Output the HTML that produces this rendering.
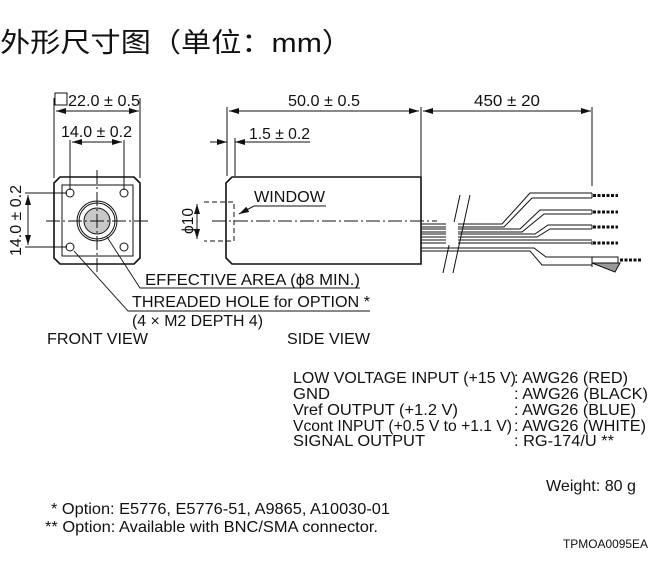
<!DOCTYPE html>
<html><head><meta charset="utf-8"><style>
body{margin:0;background:#fff;width:663px;height:582px;overflow:hidden}
svg{display:block}
text{font-family:"Liberation Sans",Arial,sans-serif;fill:#111}
</style></head><body>
<svg width="663" height="582" viewBox="0 0 663 582" xmlns="http://www.w3.org/2000/svg">
<defs>
<marker id="a" viewBox="0 0 10 6" refX="10" refY="3" markerWidth="10" markerHeight="6" orient="auto-start-reverse" markerUnits="userSpaceOnUse"><path d="M0,0L10,3L0,6z" fill="#111"/></marker>
</defs>
<text x="0" y="52" font-size="27" textLength="352" lengthAdjust="spacingAndGlyphs" style='font-family:"Liberation Sans","Noto Sans CJK SC",sans-serif'>外形尺寸图（单位：mm）</text>
<g stroke="#111" fill="none" stroke-width="1">
<rect x="55" y="93" width="12" height="12"/>
<line x1="54" y1="98" x2="54" y2="178"/><line x1="140" y1="98" x2="140" y2="178"/>
<line x1="56" y1="111" x2="139" y2="111" marker-start="url(#a)" marker-end="url(#a)"/>
<line x1="70" y1="140" x2="70" y2="190"/><line x1="124" y1="140" x2="124" y2="190"/>
<line x1="72" y1="142" x2="122" y2="142" marker-start="url(#a)" marker-end="url(#a)"/>
<line x1="25" y1="193" x2="67" y2="193"/><line x1="25" y1="247" x2="67" y2="247"/>
<line x1="28" y1="195" x2="28" y2="245" marker-start="url(#a)" marker-end="url(#a)"/>
<path d="M60,177H134L140,183V258L134,264H60L54,258V183Z" stroke-width="1.6"/>
<rect x="62" y="185" width="71" height="71"/>
<circle cx="70" cy="193" r="4"/><circle cx="124" cy="193" r="4"/><circle cx="70" cy="247" r="4"/><circle cx="124" cy="247" r="4"/>
<circle cx="97" cy="221" r="20"/><circle cx="97" cy="221" r="18"/>
<circle cx="97" cy="221" r="13" fill="#c8c8c8"/>
<line x1="97" y1="170" x2="97" y2="272" stroke-dasharray="14,3,2,3"/>
<line x1="46" y1="221" x2="148" y2="221" stroke-dasharray="14,3,2,3"/>
<path d="M107,237L140,288H360" stroke-width="0.9"/>
<path d="M74,251L128,311H370" stroke-width="0.9"/>
<line x1="227" y1="107" x2="227" y2="176"/><line x1="421" y1="107" x2="421" y2="176"/>
<line x1="229" y1="111" x2="419" y2="111" marker-start="url(#a)" marker-end="url(#a)"/>
<line x1="235" y1="138" x2="235" y2="176"/>
<line x1="210" y1="142" x2="227" y2="142" marker-end="url(#a)"/>
<line x1="310" y1="142" x2="235" y2="142" marker-end="url(#a)"/>
<line x1="423" y1="111" x2="591" y2="111" marker-start="url(#a)" marker-end="url(#a)"/>
<line x1="592" y1="107" x2="592" y2="186"/>
<path d="M232,177H421V264H232L226,258V183Z" stroke-width="1.6"/>
<path d="M204,202H234V241H204" stroke-dasharray="5,3"/>
<line x1="197" y1="204" x2="197" y2="239" marker-start="url(#a)" marker-end="url(#a)"/>
<line x1="212" y1="221" x2="437" y2="221" stroke-dasharray="14,3,2,3"/>
<path d="M326,206H254L239,214" marker-end="url(#a)"/>
<g stroke-width="1">
<path d="M421,224H502L530,193H592M421,227H504L532,198H592"/>
<path d="M421,229H520L540,210H592M421,232H522L544,214H592"/>
<path d="M421,234H535L548,225H592M421,237H537L550,229H592"/>
<path d="M421,240H592M421,243H592"/>
<path d="M421,248H534L546,257H592M421,251H530L542,265H592"/>
<path d="M592,193V198M592,210V214M592,225V229M592,241V245M592,257V267"/>
</g>
<g stroke-dasharray="3,1.5" stroke-width="3">
<line x1="593" y1="195.5" x2="618" y2="195.5"/><line x1="593" y1="212" x2="618" y2="212"/>
<line x1="593" y1="227" x2="618" y2="227"/><line x1="593" y1="243" x2="618" y2="243"/>
<line x1="620" y1="260" x2="641" y2="260"/>
</g>
<rect x="592" y="257" width="26" height="6" fill="#fff"/>
<path d="M592,263L620,263L615,272Z" fill="#999"/>
<line x1="460" y1="195" x2="443" y2="273"/><line x1="470" y1="195" x2="453" y2="273"/>
<rect x="446" y="222" width="12" height="23" fill="#fff" stroke="none"/>
</g>
<g font-size="16" lengthAdjust="spacingAndGlyphs">
<text x="68" y="106" textLength="72" lengthAdjust="spacingAndGlyphs">22.0 ± 0.5</text>
<text x="61" y="137" textLength="71" lengthAdjust="spacingAndGlyphs">14.0 ± 0.2</text>
<text transform="translate(21,256) rotate(-90)" textLength="71" lengthAdjust="spacingAndGlyphs">14.0 ± 0.2</text>
<text x="288" y="106" textLength="72" lengthAdjust="spacingAndGlyphs">50.0 ± 0.5</text>
<text x="474" y="106" textLength="66" lengthAdjust="spacingAndGlyphs">450 ± 20</text>
<text x="249" y="139" textLength="61" lengthAdjust="spacingAndGlyphs">1.5 ± 0.2</text>
<text x="254" y="202" textLength="71" lengthAdjust="spacingAndGlyphs">WINDOW</text>
<text transform="translate(193,234) rotate(-90)" textLength="26" lengthAdjust="spacingAndGlyphs">ϕ10</text>
<text x="145" y="285" textLength="215" lengthAdjust="spacingAndGlyphs">EFFECTIVE AREA (ϕ8 MIN.)</text>
<text x="132" y="307" textLength="238" lengthAdjust="spacingAndGlyphs">THREADED HOLE for OPTION *</text>
<text x="132" y="326" textLength="131" lengthAdjust="spacingAndGlyphs">(4 × M2 DEPTH 4)</text>
<text x="47" y="344" textLength="101" lengthAdjust="spacingAndGlyphs">FRONT VIEW</text>
<text x="287" y="344" textLength="83" lengthAdjust="spacingAndGlyphs">SIDE VIEW</text>
<text x="293" y="383" textLength="223" lengthAdjust="spacingAndGlyphs">LOW VOLTAGE INPUT (+15 V)</text><text x="514" y="383" textLength="114" lengthAdjust="spacingAndGlyphs">: AWG26 (RED)</text>
<text x="293" y="399" textLength="37" lengthAdjust="spacingAndGlyphs">GND</text><text x="514" y="399" textLength="134" lengthAdjust="spacingAndGlyphs">: AWG26 (BLACK)</text>
<text x="293" y="415" textLength="165" lengthAdjust="spacingAndGlyphs">Vref OUTPUT (+1.2 V)</text><text x="514" y="415" textLength="122" lengthAdjust="spacingAndGlyphs">: AWG26 (BLUE)</text>
<text x="293" y="431" textLength="219" lengthAdjust="spacingAndGlyphs">Vcont INPUT (+0.5 V to +1.1 V)</text><text x="514" y="431" textLength="132" lengthAdjust="spacingAndGlyphs">: AWG26 (WHITE)</text>
<text x="293" y="446" textLength="132" lengthAdjust="spacingAndGlyphs">SIGNAL OUTPUT</text><text x="514" y="446" textLength="100" lengthAdjust="spacingAndGlyphs">: RG-174/U **</text>
<text x="546" y="491" textLength="90" lengthAdjust="spacingAndGlyphs">Weight: 80 g</text>
<text x="51" y="514" textLength="339" lengthAdjust="spacingAndGlyphs">* Option: E5776, E5776-51, A9865, A10030-01</text>
<text x="45" y="532" textLength="333" lengthAdjust="spacingAndGlyphs">** Option: Available with BNC/SMA connector.</text>
<text x="563" y="548" font-size="12" textLength="85" lengthAdjust="spacingAndGlyphs">TPMOA0095EA</text>
</g>
</svg>
</body></html>
